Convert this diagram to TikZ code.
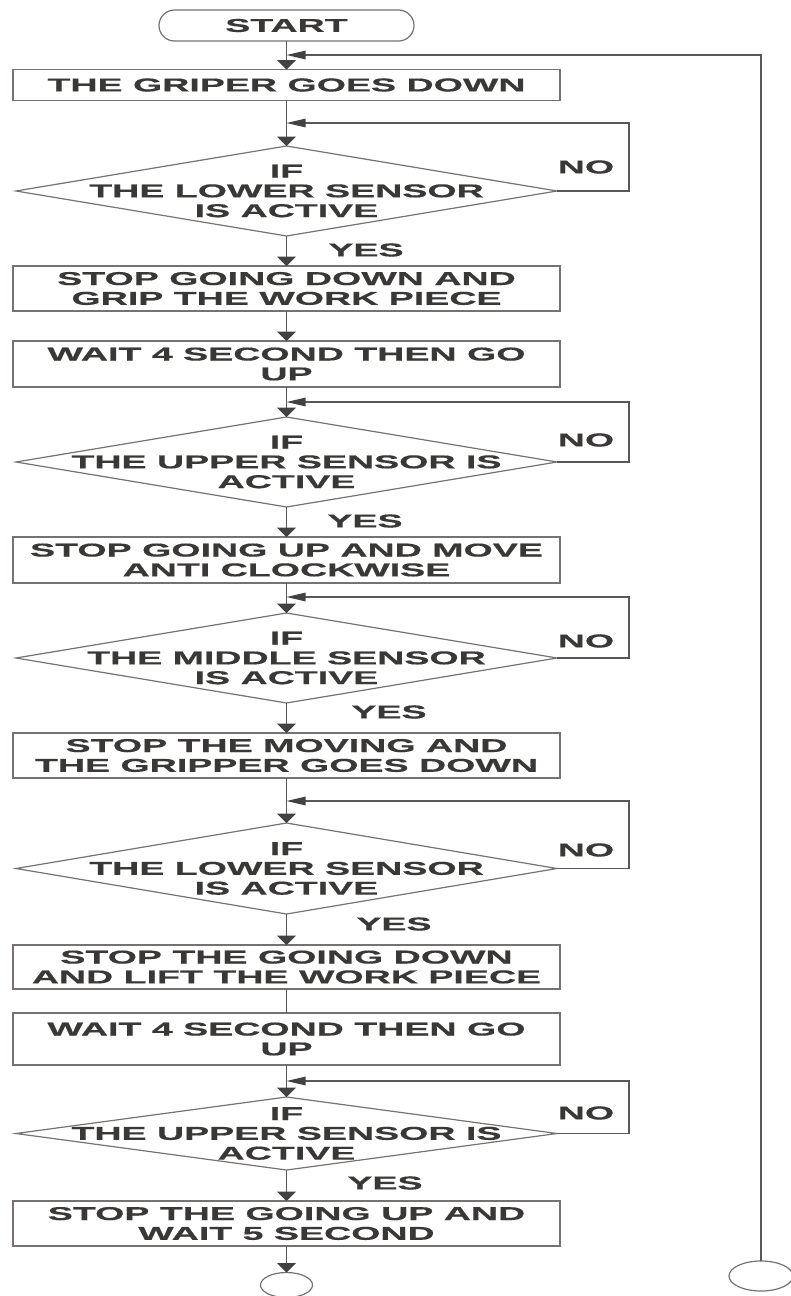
\documentclass[tikz,border=0pt]{standalone}
\usepackage{fontspec}
\newfontfamily\fcfont{Liberation Sans}[FakeStretch=2.02, FakeBold=0.6]
\usetikzlibrary{shapes.geometric,arrows.meta}
\definecolor{txt}{RGB}{58,55,55}
\definecolor{edgec}{RGB}{120,113,113}
\definecolor{connc}{RGB}{90,87,87}
\definecolor{headc}{RGB}{66,66,66}
\begin{document}
\begin{tikzpicture}[x=0.5pt,y=-0.5pt,
  every node/.style={font=\fcfont\bfseries\fontsize{9.3}{9.9}\selectfont, text=txt, align=center, inner sep=0pt, outer sep=0pt},
  proc/.style={draw=edgec, line width=0.6pt, minimum width=273.5pt},
  term/.style={draw=edgec, line width=0.6pt, rounded corners=7.75pt, minimum width=127.5pt, minimum height=15.5pt},
  dec/.style={diamond, draw=edgec, line width=0.6pt, minimum width=270.5pt},
  endc/.style={ellipse, draw=edgec, line width=0.6pt},
  flow/.style={draw=connc, line width=0.6pt},
  downarrow/.style={flow, -{Triangle[length=4.75pt,width=9.5pt,color=headc]}},
  backarrow/.style={flow, -{Triangle[length=9.5pt,width=4.25pt,color=headc]}}
]
\useasboundingbox (0,0) rectangle (791,1296);

% nodes
\node[term] (start) at (286.5,25.5) {START};
\node[proc, minimum height=15.5pt] (b1) at (286.5,85) {THE GRIPER GOES DOWN};
\node[dec, minimum height=45pt] (d1) at (286.5,191) {};
\node (d1t) at (d1.center) {IF\\THE LOWER SENSOR\\IS ACTIVE};
\node[proc, minimum height=22.5pt] (b2) at (286.5,288.5) {STOP GOING DOWN AND\\GRIP THE WORK PIECE};
\node[proc, minimum height=23pt] (b3) at (286.5,364) {WAIT 4 SECOND THEN GO\\UP};
\node[dec, minimum height=45pt] (d2) at (286.5,462) {};
\node (d2t) at (d2.center) {IF\\THE UPPER SENSOR IS\\ACTIVE};
\node[proc, minimum height=23pt] (b4) at (286.5,560) {STOP GOING UP AND MOVE\\ANTI CLOCKWISE};
\node[dec, minimum height=45pt] (d3) at (286.5,658) {};
\node (d3t) at (d3.center) {IF\\THE MIDDLE SENSOR\\IS ACTIVE};
\node[proc, minimum height=22.5pt] (b5) at (286.5,755.5) {STOP THE MOVING AND\\THE GRIPPER GOES DOWN};
\node[dec, minimum height=45.5pt] (d4) at (286.5,868.5) {};
\node (d4t) at (d4.center) {IF\\THE LOWER SENSOR\\IS ACTIVE};
\node[proc, minimum height=22pt] (b6) at (286.5,967) {STOP THE GOING DOWN\\AND LIFT THE WORK PIECE};
\node[proc, minimum height=26pt] (b7) at (286.5,1039) {WAIT 4 SECOND THEN GO\\UP};
\node[dec, minimum height=36.5pt] (d5) at (286.5,1133.5) {};
\node (d5t) at (d5.center) {IF\\THE UPPER SENSOR IS\\ACTIVE};
\node[proc, minimum height=22.5pt] (b8) at (286.5,1223.5) {STOP THE GOING UP AND\\WAIT 5 SECOND};
\node[endc, minimum width=26pt, minimum height=12.5pt] (e1) at (286.5,1285) {};
\node[endc, minimum width=32pt, minimum height=15pt] (e2) at (761,1276) {};

% labels
\node (no1) at (586,167) {NO};
\node (no2) at (586,440) {NO};
\node (no3) at (586,641) {NO};
\node (no4) at (586,850) {NO};
\node (no5) at (586,1113) {NO};
\node (yes1) at (366,250) {YES};
\node (yes2) at (365,521) {YES};
\node (yes3) at (389,712) {YES};
\node (yes4) at (394,924) {YES};
\node (yes5) at (385,1183) {YES};

% main flow
\draw[downarrow] (start.south) -- (b1.north);
\draw[downarrow] (b1.south) -- (d1.north);
\draw[downarrow] (d1.south) -- (b2.north);
\draw[downarrow] (b2.south) -- (b3.north);
\draw[downarrow] (b3.south) -- (d2.north);
\draw[downarrow] (d2.south) -- (b4.north);
\draw[downarrow] (b4.south) -- (d3.north);
\draw[downarrow] (d3.south) -- (b5.north);
\draw[downarrow] (b5.south) -- (d4.north);
\draw[downarrow] (d4.south) -- (b6.north);
\draw[flow] (b6.south) -- (b7.north);
\draw[downarrow] (b7.south) -- (d5.north);
\draw[downarrow] (d5.south) -- (b8.north);
\draw[downarrow] (b8.south) -- (e1.north);

% loops
\coordinate (l0) at (286.5,55);
\coordinate (l1) at (286.5,123);  \coordinate (r1) at (629,123);
\coordinate (l2) at (286.5,402);  \coordinate (r2) at (629,402);
\coordinate (l3) at (286.5,597);  \coordinate (r3) at (629,597);
\coordinate (l4) at (286.5,801);  \coordinate (r4) at (629,801);
\coordinate (l5) at (286.5,1081); \coordinate (r5) at (629,1081);
\draw[backarrow] (e2.north) |- (l0);
\draw[backarrow] (d1.east) -| (r1) -- (l1);
\draw[backarrow] (d2.east) -| (r2) -- (l2);
\draw[backarrow] (d3.east) -| (r3) -- (l3);
\draw[backarrow] (d4.east) -| (r4) -- (l4);
\draw[backarrow] (d5.east) -| (r5) -- (l5);
\end{tikzpicture}
\end{document}
